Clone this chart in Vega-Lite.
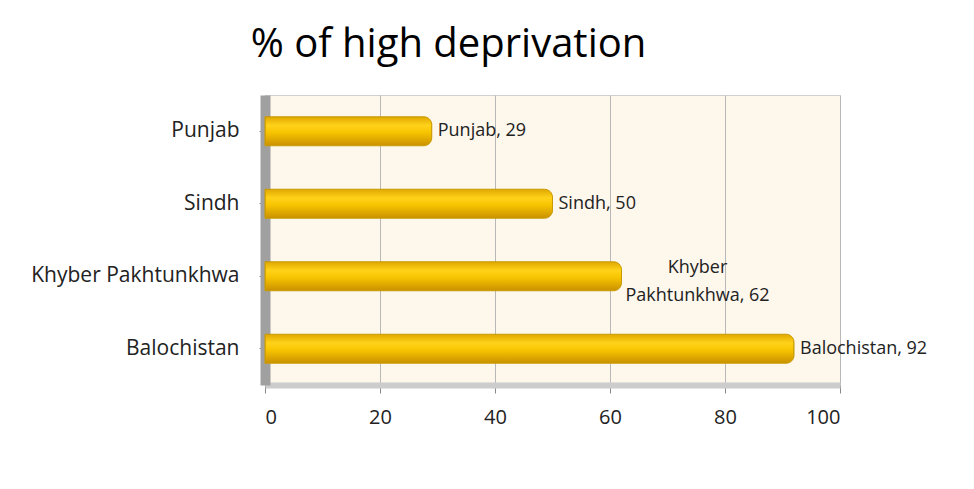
{
  "$schema": "https://vega.github.io/schema/vega-lite/v6.json",
  "autosize": "none",
  "width": 575,
  "height": 290,
  "padding": {"left": 265, "top": 95, "right": 134, "bottom": 104},
  "background": "white",
  "title": {
    "text": "% of high deprivation",
    "font": "Open Sans",
    "fontSize": 40,
    "fontWeight": "normal",
    "color": "#000000",
    "anchor": "middle",
    "dx": -104,
    "offset": 30
  },
  "config": {
    "view": {"fill": "#fdf7ec", "stroke": "#d0d0d0"},
    "font": "Open Sans"
  },
  "data": {
    "values": [
      {"region": "Punjab", "value": 29, "label": "Punjab, 29"},
      {"region": "Sindh", "value": 50, "label": "Sindh, 50"},
      {"region": "Khyber Pakhtunkhwa", "value": 62, "label": "Khyber\nPakhtunkhwa, 62"},
      {"region": "Balochistan", "value": 92, "label": "Balochistan, 92"}
    ]
  },
  "encoding": {
    "y": {
      "field": "region",
      "type": "nominal",
      "sort": ["Punjab", "Sindh", "Khyber Pakhtunkhwa", "Balochistan"],
      "scale": {"paddingInner": 0.6, "paddingOuter": 0.3},
      "axis": {
        "title": null,
        "labelFontSize": 21,
        "labelColor": "#222222",
        "labelPadding": 20,
        "labelLimit": 300,
        "tickColor": "#888888",
        "tickSize": 6,
        "domainColor": "#a0a0a0",
        "domainWidth": 10
      }
    },
    "x": {
      "field": "value",
      "type": "quantitative",
      "scale": {"domain": [0, 100]},
      "axis": {
        "title": null,
        "values": [0, 20, 40, 60, 80, 100],
        "labelFontSize": 20,
        "labelColor": "#222222",
        "labelPadding": 14,
        "tickColor": "#888888",
        "tickSize": 8,
        "domainColor": "#cccccc",
        "domainWidth": 6,
        "grid": true,
        "gridColor": "#b8b8b8",
        "gridWidth": 1
      }
    }
  },
  "layer": [
    {
      "mark": {
        "type": "bar",
        "cornerRadiusEnd": 8,
        "stroke": "#c99a00",
        "strokeWidth": 1,
        "color": {
          "gradient": "linear",
          "x1": 0, "y1": 0, "x2": 0, "y2": 1,
          "stops": [
            {"offset": 0, "color": "#e0a800"},
            {"offset": 0.3, "color": "#ffd21a"},
            {"offset": 0.55, "color": "#f7c400"},
            {"offset": 1, "color": "#c99000"}
          ]
        }
      }
    },
    {
      "transform": [{"filter": "datum.region != 'Khyber Pakhtunkhwa'"}],
      "mark": {
        "type": "text",
        "align": "left",
        "baseline": "middle",
        "dx": 6,
        "fontSize": 18,
        "color": "#222222"
      },
      "encoding": {"text": {"field": "label"}}
    },
    {
      "transform": [{"filter": "datum.region == 'Khyber Pakhtunkhwa'"}],
      "mark": {
        "type": "text",
        "align": "center",
        "baseline": "middle",
        "dx": 76,
        "dy": -8,
        "fontSize": 18,
        "color": "#222222",
        "lineBreak": "\n",
        "lineHeight": 28
      },
      "encoding": {"text": {"field": "label"}}
    }
  ]
}
